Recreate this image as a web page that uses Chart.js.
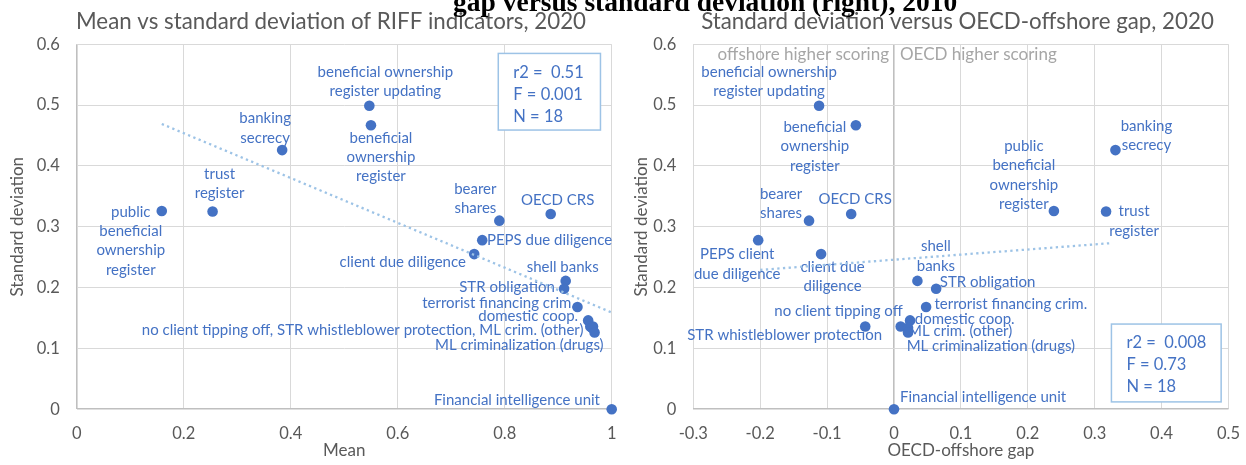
<!doctype html>
<html>
<head>
  <meta charset="utf-8" />
  <title>RIFF indicators, 2020</title>
  <script src="https://cdn.jsdelivr.net/npm/chart.js@4.4.0/dist/chart.umd.min.js"></script>
  <style>
    body { margin:0; width:1246px; height:465px; overflow:hidden; background:#fff; position:relative; }
    .pane { position:absolute; top:0; height:465px; }
    #top { position:absolute; left:453px; top:-12px; z-index:2; white-space:nowrap;
           font:bold 27.5px "Liberation Serif", serif; line-height:27.5px; color:#000; }
  </style>
</head>
<body>
<div class="pane" style="left:0;width:620px"><canvas id="left" width="620" height="465"></canvas></div>
<div class="pane" style="left:620px;width:626px"><canvas id="right" width="626" height="465"></canvas></div>
<div id="top">gap versus standard deviation (right), 2010</div>

<script>
// values
const indicators = ["public beneficial ownership register", "trust register", "banking secrecy",
  "beneficial ownership register updating", "beneficial ownership register", "bearer shares",
  "OECD CRS", "PEPS due diligence", "client due diligence", "shell banks", "STR obligation",
  "terrorist financing crim.", "domestic coop.", "no client tipping off", "STR whistleblower protection",
  "ML crim. (other)", "ML criminalization (drugs)", "Financial intelligence unit"];
const meanScore = [0.159, 0.254, 0.384, 0.547, 0.550, 0.790, 0.886, 0.758, 0.743, 0.914, 0.911,
  0.936, 0.956, 0.960, 0.965, 0.963, 0.968, 1.000];
const stdDev = [0.326, 0.325, 0.426, 0.499, 0.467, 0.310, 0.321, 0.278, 0.255, 0.211, 0.198,
  0.168, 0.146, 0.136, 0.136, 0.134, 0.126, 0.000];
const oecdGap = [0.239, 0.317, 0.331, -0.112, -0.057, -0.127, -0.064, -0.203, -0.109, 0.035, 0.063,
  0.048, 0.024, 0.010, -0.043, 0.021, 0.021, 0.000];

const trendLeftX = [0.159, 1.0];
const trendLeftY = [0.469, 0.159];
const trendRightX = [-0.200, 0.324];
const trendRightY = [0.229, 0.273];

const statsLeft = ["r2 =  0.51", "F = 0.001", "N = 18"];
const statsRight = ["r2 =  0.008", "F = 0.73", "N = 18"];

const xTicksLeft = { min: 0, max: 1, step: 0.2 };
const xTicksRight = { min: -0.3, max: 0.5, step: 0.1 };
const yTicks = { min: 0, max: 0.6, step: 0.1 };

const BLUE = "#4472C4", GREY = "#595959", GRID = "#D9D9D9", AXIS = "#BFBFBF";
const FONT = "Lato";
const LABEL_PX = 15, LINE_H = 19.3;

// label placement: words per line, offset of first line from the dot, alignment
const layoutLeft = [
  { w: [1, 1, 1, 1], dx: -31, dy: 1, a: "center" },
  { w: [1, 1], dx: 7, dy: -37.4, a: "center" },
  { w: [1, 1], dx: -17, dy: -31.7, a: "center" },
  { w: [2, 2], dx: 16, dy: -33.4, a: "center" },
  { w: [1, 1, 1], dx: 10, dy: 12.7, a: "center" },
  { w: [1, 1], dx: -24, dy: -32, a: "center" },
  { dx: 7, dy: -13.7, a: "center" },
  { dx: 4.7, dy: 0, a: "left" },
  { dx: -8.3, dy: 7.7, a: "right" },
  { dx: -3, dy: -13.7, a: "center" },
  { dx: -9.3, dy: -2, a: "right" },
  { dx: -2.5, dy: -4.3, a: "right" },
  { dx: -10, dy: -4, a: "right" },
  null,
  null,
  { join: [13, 14, 15], dx: -8.4, dy: 2.3, a: "right" },
  { dx: 9, dy: 12.3, a: "right" },
  { dx: -11.7, dy: -9.3, a: "right" }
];
const layoutRight = [
  { w: [1, 1, 1, 1], dx: -30, dy: -64.7, a: "center" },
  { w: [1, 1], dx: 28, dy: 0, a: "center" },
  { w: [1, 1], dx: 31, dy: -24.3, a: "center" },
  { w: [2, 2], dx: -50, dy: -33.4, a: "center" },
  { w: [1, 1, 1], dx: -41, dy: 2, a: "center" },
  { w: [1, 1], dx: -28, dy: -26.7, a: "center" },
  { dx: 4, dy: -14.7, a: "center" },
  { w: [2, 2], text: "PEPS client due diligence", dx: -21, dy: 14.3, a: "center" },
  { w: [2, 1], dx: 11.5, dy: 13, a: "center" },
  { w: [1, 1], dx: 18.5, dy: -34.3, a: "center" },
  { dx: 3.7, dy: -6.6, a: "left" },
  { dx: 8.3, dy: -3.3, a: "left" },
  { dx: 4.7, dy: -1.7, a: "left" },
  { dx: 2, dy: -15.7, a: "right" },
  { dx: 17, dy: 9, a: "right" },
  { dx: 0, dy: 3, a: "left" },
  { dx: -1.4, dy: 13.3, a: "left" },
  { dx: 6, dy: -12, a: "left" }
];

function labelLines(l, i) {
  let text = l.text || (l.join ? l.join.map(k => indicators[k]).join(", ") : indicators[i]);
  if (!l.w) return [text];
  const words = text.split(" ");
  const out = [];
  let p = 0;
  l.w.forEach(n => { out.push(words.slice(p, p + n).join(" ")); p += n; });
  return out;
}

const extras = {};

const pointLabels = {
  id: "pointLabels",
  beforeDatasetsDraw(chart) {
    const o = extras[chart.canvas.id];
    const meta = chart.getDatasetMeta(1);
    const ctx = chart.ctx;
    ctx.save();
    ctx.font = LABEL_PX + "px " + FONT;
    ctx.fillStyle = BLUE;
    ctx.textBaseline = "middle";
    meta.data.forEach((pt, i) => {
      const l = o.layout[i];
      if (!l) return;
      ctx.textAlign = l.a;
      labelLines(l, i).forEach((s, k) => ctx.fillText(s, pt.x + l.dx, pt.y + l.dy + k * LINE_H));
    });
    ctx.restore();
  },
  afterDraw(chart) {
    const o = extras[chart.canvas.id];
    const ctx = chart.ctx, xs = chart.scales.x, ys = chart.scales.y;
    ctx.save();
    // chart title
    ctx.font = "22.3px " + FONT;
    ctx.fillStyle = GREY;
    ctx.textAlign = "center";
    ctx.textBaseline = "middle";
    ctx.fillText(o.title, o.titleX, 21.5);
    // stats box
    const b = o.box;
    const x0 = xs.getPixelForValue(b.x0), x1 = xs.getPixelForValue(b.x1);
    const y0 = ys.getPixelForValue(b.y0), y1 = ys.getPixelForValue(b.y1);
    ctx.fillStyle = "#fff";
    ctx.fillRect(x0, y0, x1 - x0, y1 - y0);
    ctx.strokeStyle = "#9DC3E6";
    ctx.lineWidth = 1.5;
    ctx.strokeRect(x0, y0, x1 - x0, y1 - y0);
    ctx.font = "16.5px " + FONT;
    ctx.fillStyle = BLUE;
    ctx.textAlign = "left";
    b.lines.forEach((s, k) => ctx.fillText(s, x0 + 15, y0 + 19 + k * 22));
    // side notes
    if (o.notes) {
      ctx.font = "17px " + FONT;
      ctx.fillStyle = "#A6A6A6";
      const zx = xs.getPixelForValue(0);
      const ny = ys.getPixelForValue(0.6) + 10;
      ctx.textAlign = "right";
      ctx.fillText(o.notes[0], zx - 5, ny);
      ctx.textAlign = "left";
      ctx.fillText(o.notes[1], zx + 6, ny);
    }
    ctx.restore();
  }
};

function scatterChart(id, xv, xr, tx, ty, opt) {
  extras[id] = opt;
  const pts = xv.map((x, i) => ({ x: x, y: stdDev[i] }));
  const trend = tx.map((x, i) => ({ x: x, y: ty[i] }));
  const gridColor = c => Math.abs(c.tick.value) < 1e-9 ? AXIS : GRID;
  const gridWidth = c => Math.abs(c.tick.value) < 1e-9 ? 1.6 : 1;
  const fmt = v => String(Math.round(v * 10) / 10);
  return new Chart(id, {
    type: "scatter",
    data: {
      datasets: [
        { data: trend, showLine: true, pointRadius: 0, borderColor: "#9DC3E6",
          borderWidth: 2.3, borderDash: [2.3, 3.4], fill: false },
        { data: pts, pointRadius: 5.3, pointHoverRadius: 5.3, backgroundColor: BLUE, borderWidth: 0, clip: false }
      ]
    },
    plugins: [pointLabels],
    options: {
      responsive: false,
      devicePixelRatio: 1,
      animation: false,
      events: [],
      layout: { padding: { left: 0, top: 44.3, right: opt.padRight, bottom: 0 } },
      plugins: {
        legend: { display: false },
        tooltip: { enabled: false }
      },
      scales: {
        x: {
          type: "linear", min: xr.min, max: xr.max,
          ticks: { stepSize: xr.step, color: GREY, padding: 0, font: { family: FONT, size: 16.5 }, callback: fmt },
          grid: { color: gridColor, lineWidth: gridWidth, drawTicks: true, tickLength: 15, tickColor: "rgba(0,0,0,0)" },
          border: { display: false },
          title: { display: true, text: opt.xTitle, color: GREY, font: { family: FONT, size: 17 },
                   padding: { top: 0, bottom: 4 } },
          afterFit: s => { s.height = 55.8; }
        },
        y: {
          type: "linear", min: yTicks.min, max: yTicks.max,
          ticks: { stepSize: yTicks.step, color: GREY, padding: 17, font: { family: FONT, size: 16.5 }, callback: fmt },
          grid: { color: gridColor, lineWidth: gridWidth, drawTicks: false },
          border: { display: false },
          title: { display: true, text: "Standard deviation", color: GREY, font: { family: FONT, size: 17 },
                   padding: { top: opt.yTitlePad, bottom: 0 } },
          afterFit: s => { s.width = opt.yWidth; }
        }
      }
    }
  });
}

scatterChart("left", meanScore, xTicksLeft, trendLeftX, trendLeftY, {
  layout: layoutLeft, title: "Mean vs standard deviation of RIFF indicators, 2020", titleX: 331,
  xTitle: "Mean", yWidth: 76.7, padRight: 8.3, yTitlePad: 7,
  box: { x0: 0.788, x1: 0.979, y0: 0.585, y1: 0.459, lines: statsLeft }
});
scatterChart("right", oecdGap, xTicksRight, trendRightX, trendRightY, {
  layout: layoutRight, title: "Standard deviation versus OECD-offshore gap, 2020", titleX: 337.5,
  xTitle: "OECD-offshore gap", yWidth: 73.3, padRight: 17.5, yTitlePad: 11,
  box: { x0: 0.325, x1: 0.489, y0: 0.140, y1: 0.012, lines: statsRight },
  notes: ["offshore higher scoring", "OECD higher scoring"]
});
</script>
</body>
</html>
